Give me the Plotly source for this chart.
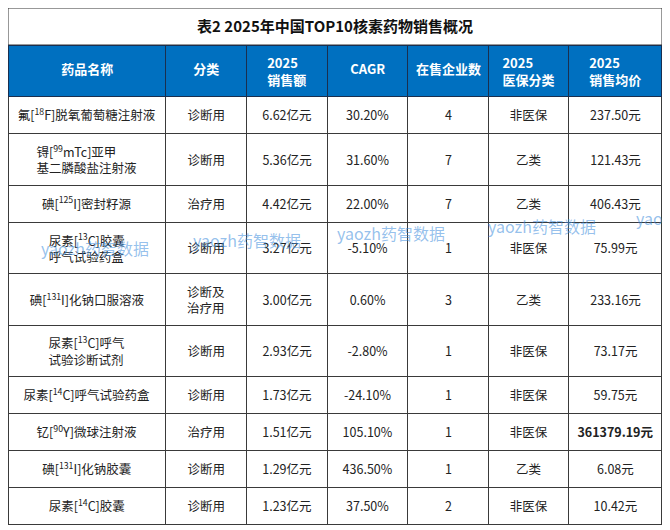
"""Top 10 radiopharmaceutical sales table, 2025."""
import plotly.graph_objects as go

TITLE = "表2 2025年中国TOP10核素药物销售概况"

headers = ["药品名称", "分类", "2025<br>销售额", "CAGR", "在售企业数", "2025<br>医保分类", "2025<br>销售均价"]

drug_names = [
    "氟[<sup>18</sup>F]脱氧葡萄糖注射液",
    "锝[<sup>99</sup>mTc]亚甲<br>基二膦酸盐注射液",
    "碘[<sup>125</sup>I]密封籽源",
    "尿素[<sup>13</sup>C]胶囊<br>呼气试验药盒",
    "碘[<sup>131</sup>I]化钠口服溶液",
    "尿素[<sup>13</sup>C]呼气<br>试验诊断试剂",
    "尿素[<sup>14</sup>C]呼气试验药盒",
    "钇[<sup>90</sup>Y]微球注射液",
    "碘[<sup>131</sup>I]化钠胶囊",
    "尿素[<sup>14</sup>C]胶囊",
]
categories = ["诊断用", "诊断用", "治疗用", "诊断用", "诊断及<br>治疗用",
              "诊断用", "诊断用", "治疗用", "诊断用", "诊断用"]
sales_2025 = [6.62, 5.36, 4.42, 3.27, 3.00, 2.93, 1.73, 1.51, 1.29, 1.23]  # 亿元
cagr = [30.20, 31.60, 22.00, -5.10, 0.60, -2.80, -24.10, 105.10, 436.50, 37.50]  # %
companies = [4, 7, 7, 1, 3, 1, 1, 1, 1, 2]
insurance = ["非医保", "乙类", "乙类", "非医保", "乙类", "非医保", "非医保", "非医保", "乙类", "非医保"]
avg_price = [237.50, 121.43, 406.43, 75.99, 233.16, 73.17, 59.75, 361379.19, 6.08, 10.42]  # 元

FONT = "Noto Sans CJK SC"
FS = 12.5
W, H = 662, 522  # page body adds an 8px offset
TITLE_H = 37

top_price = max(avg_price)
price_text = [f"<b>{p:.2f}元</b>" if p == top_price else f"{p:.2f}元" for p in avg_price]

columns = [
    drug_names,
    categories,
    [f"{v:.2f}亿元" for v in sales_2025],
    [f"{v:.2f}%" for v in cagr],
    [str(v) for v in companies],
    insurance,
    price_text,
]


def centre(text, shift):
    """Shift a one-line text down so it sits mid-row next to two-line cells.

    A hair space keeps the box top in place; the trailing <br> stops the
    table from wrapping at the space inside the span tag.
    """
    return f"\u200a<span style='baseline-shift:-{shift}px'>{text}</span><br>"


def level(text):
    """Give a plain cell the same box as the superscripted drug names."""
    return text if "<sup>" in text else f"<sup>\u200a</sup>{text}"


n_rows = len(drug_names)
tall = [any("<br>" in col[r] for col in columns) for r in range(n_rows)]
cell_text = []
for col in columns:
    out = []
    for r, t in enumerate(col):
        if "<br>" in t:
            out.append(t)
        elif tall[r]:
            out.append(centre(t, 8))
        else:
            out.append(level(t))
    cell_text.append(out)

head_text = [f"<b>{h}</b>" if "<br>" in h else centre(f"<b>{h}</b>", 6) for h in headers]

fig = go.Figure()

fig.add_trace(
    go.Table(
        domain=dict(x=[0, 1], y=[0, 1 - TITLE_H / H]),
        columnwidth=[158, 81, 81, 81, 81, 80, 94],
        header=dict(
            values=head_text,
            height=51,
            align="center",
            fill_color="#0070C0",
            line=dict(color="#1a2f4f", width=1),
            font=dict(family=FONT, size=13, color="white"),
        ),
        cells=dict(
            values=cell_text,
            height=37,
            align="center",
            fill_color="white",
            line=dict(color="#3a3a3a", width=1),
            font=dict(family=FONT, size=FS, color="#222222"),
        ),
    )
)

# title box above the table
fig.add_shape(
    type="rect", xref="paper", yref="paper",
    x0=0, x1=1, y0=1 - TITLE_H / H, y1=1,
    line=dict(color="#333333", width=1), fillcolor="white", layer="below",
)

# faint watermarks (screen pixels)
for sx, sy in [(95, 248), (247, 240), (391, 233), (542, 226), (690, 218)]:
    fig.add_annotation(
        x=(sx - 8) / (W - 8), y=1 - (sy - 8) / H, xref="paper", yref="paper",
        xanchor="center", yanchor="middle",
        text="yaozh药智数据", showarrow=False,
        font=dict(family=FONT, size=16, color="rgba(60,140,220,0.55)"),
    )

fig.update_layout(
    width=W,
    height=H,
    margin=dict(l=0, r=8, t=0, b=0),
    paper_bgcolor="white",
    title=dict(
        text=f"<b>{TITLE}</b>",
        x=0.5 * (W - 8) / W, xanchor="center",
        y=1 - (TITLE_H / 2) / H, yanchor="middle",
        font=dict(family=FONT, size=15, color="#111111"),
    ),
)

fig.write_html("out.html")
